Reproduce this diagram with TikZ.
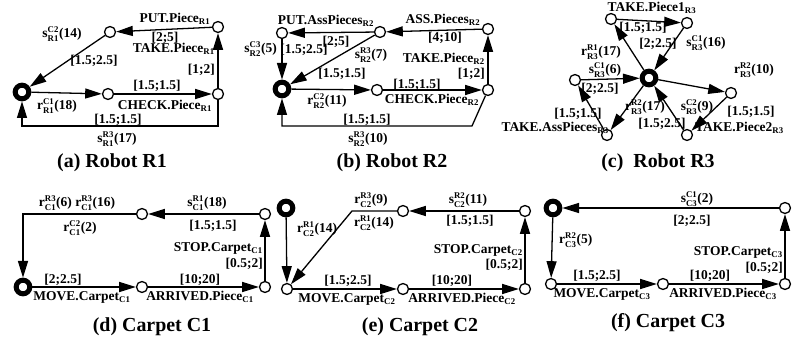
\documentclass[tikz,border=0pt]{standalone}
\usepackage{fontspec}
\setmainfont{Liberation Serif}
\usetikzlibrary{arrows.meta, positioning}
\DeclareMathSizes{11.5}{11.5}{7.5}{6}

\newcommand{\evt}[4]{$\mathbf{#1}^{\mathbf{#2}}_{\mathbf{#3}}$(#4)}
\newcommand{\act}[2]{#1$_{\mathbf{#2}}$}

\begin{document}
\begin{tikzpicture}[
    x=0.3mm, y=-0.3mm,
    state/.style={
        circle,
        draw,
        fill=white,
        line width=1.1pt,
        inner sep=0pt,
        minimum size=3.3mm
    },
    initstate/.style={
        circle,
        draw,
        fill=white,
        line width=1.5mm,
        inner sep=0pt,
        minimum size=4.1mm
    },
    arrow/.style={
        -{Triangle[length=5mm, width=3mm]},
        line width=1.1pt
    },
    lbl/.style={font=\fontsize{11.5}{12}\selectfont\bfseries, inner sep=0pt},
    caption/.style={font=\fontsize{17}{19}\selectfont\bfseries}
]
\useasboundingbox (0,0) rectangle (792,341);

% (a) Robot R1
\node[initstate] (a0) at (22,92) {};
\node[state] (a1) at (110,32) {};
\node[state] (a2) at (218,27) {};
\node[state] (a3) at (108,94) {};
\node[state] (a4) at (218,94) {};
\coordinate (a5) at (22,126);

\draw[arrow] (a2) -- (a1);
\draw[arrow] (a1) -- (a0);
\draw[arrow] (a0) -- (a3);
\draw[arrow] (a3) -- (a4);
\draw[arrow] (a4) -- (a2);
\draw[arrow] (a4) |- (a5) -- (a0);

\node[lbl] (aput) at (175,19) {\act{PUT.Piece}{R1}};
\node[lbl] (aputt) at (165,38) {[2;5]};
\node[lbl, anchor=east] (atake) at (215,49) {\act{TAKE.Piece}{R1}};
\node[lbl, anchor=east] (ataket) at (215,70) {[1;2]};
\node[lbl] (acheckt) at (157,86) {[1.5;1.5]};
\node[lbl] (acheck) at (165,106) {\act{CHECK.Piece}{R1}};
\node[lbl] (ar18) at (57,106) {\evt{r}{C1}{R1}{18}};
\node[lbl] (as17t) at (118,120) {[1.5;1.5]};
\node[lbl] (as17) at (117,139) {\evt{s}{R3}{R1}{17}};
\node[lbl] (as14) at (62,34) {\evt{s}{C2}{R1}{14}};
\node[lbl] (as14t) at (94,61) {[1.5;2.5]};
\node[caption] (capa) at (112,163) {(a) Robot R1};

% (b) Robot R2
\node[initstate] (b0) at (282,89) {};
\node[state] (b1) at (282,33) {};
\node[state] (b2) at (380,32) {};
\node[state] (b3) at (488,29) {};
\node[state] (b4) at (377,90) {};
\node[state] (b5) at (488,90) {};
\coordinate (b6) at (472,126);
\coordinate (b7) at (282,126);

\draw[arrow] (b3) -- (b2);
\draw[arrow] (b2) -- (b1);
\draw[arrow] (b1) -- (b0);
\draw[arrow] (b2) -- (b0);
\draw[arrow] (b0) -- (b4);
\draw[arrow] (b4) -- (b5);
\draw[arrow] (b5) -- (b3);
\draw[arrow] (b5) -- (b6) -- (b7) -- (b0);

\node[lbl] (bput) at (326,21) {\act{PUT.AssPieces}{R2}};
\node[lbl] (bputt) at (336,42) {[2;5]};
\node[lbl] (bass) at (443,20) {\act{ASS.Pieces}{R2}};
\node[lbl] (basst) at (445,38) {[4;10]};
\node[lbl, anchor=east] (bs5) at (277,49) {\evt{s}{C3}{R2}{5}};
\node[lbl] (bs5t) at (304,50) {[1.5;2.5]};
\node[lbl] (bs7) at (371,55) {\evt{s}{R3}{R2}{7}};
\node[lbl] (bs7t) at (342,74) {[1.5;1.5]};
\node[lbl, anchor=east] (btake) at (485,59) {\act{TAKE.Piece}{R2}};
\node[lbl, anchor=east] (btaket) at (485,74) {[1;2]};
\node[lbl] (bcheckt) at (417,85) {[1.5;1.5]};
\node[lbl] (bcheck) at (432,100) {\act{CHECK.Piece}{R2}};
\node[lbl] (br11) at (327,101) {\evt{r}{C2}{R2}{11}};
\node[lbl] (bs10t) at (367,120) {[1.5;1.5]};
\node[lbl] (bs10) at (368,139) {\evt{s}{R3}{R2}{10}};
\node[caption] (capb) at (392,163) {(b) Robot R2};

% (c) Robot R3
\node[initstate] (c0) at (649,78) {};
\node[state] (c1) at (611,19) {};
\node[state] (c2) at (687,23) {};
\node[state] (c3) at (575,80) {};
\node[state] (c4) at (607,135) {};
\node[state] (c5) at (687,135) {};
\node[state] (c6) at (731,93) {};

\draw[arrow] (c0) -- (c1);
\draw[arrow] (c1) -- (c2);
\draw[arrow] (c2) -- (c0);
\draw[arrow] (c3) -- (c0);
\draw[arrow] (c0) -- (c4);
\draw[arrow] (c4) -- (c3);
\draw[arrow] (c0) -- (c6);
\draw[arrow] (c6) -- (c5);
\draw[arrow] (c5) -- (c0);

\node[lbl] (ctake1) at (652,8) {\act{TAKE.Piece1}{R3}};
\node[lbl] (ctake1t) at (643,28) {[1.5;1.5]};
\node[lbl] (cs16t) at (658,44) {[2;2.5]};
\node[lbl] (cs16) at (706,43) {\evt{s}{C1}{R3}{16}};
\node[lbl] (cr17) at (601,52) {\evt{r}{R1}{R3}{17}};
\node[lbl] (cs6) at (605,70) {\evt{s}{C1}{R3}{6}};
\node[lbl] (cs6t) at (600,89) {[2;2.5]};
\node[lbl] (cr10) at (754,70) {\evt{r}{R2}{R3}{10}};
\node[lbl] (cassT) at (578,114) {[1.5;1.5]};
\node[lbl, anchor=east] (cass) at (609,128) {\act{TAKE.AssPieces}{R3}};
\node[lbl] (cr17b) at (645,107) {\evt{r}{R2}{R3}{17}};
\node[lbl] (cs9) at (697,107) {\evt{s}{C2}{R3}{9}};
\node[lbl] (cs9t) at (662,124) {[1.5;2.5]};
\node[lbl] (ctake2t) at (751,112) {[1.5;1.5]};
\node[lbl, anchor=west] (ctake2) at (695,128) {\act{TAKE.Piece2}{R3}};
\node[caption] (capc) at (658,163) {(c)\ \ Robot R3};

% (d) Carpet C1
\node[initstate] (d0) at (23,287) {};
\node[state] (d1) at (142,287) {};
\node[state] (d2) at (265,287) {};
\node[state] (d3) at (265,214) {};
\node[state] (d4) at (142,214) {};
\coordinate (d5) at (23,214);

\draw[arrow] (d0) -- (d1);
\draw[arrow] (d1) -- (d2);
\draw[arrow] (d2) -- (d3);
\draw[arrow] (d3) -- (d4);
\draw[arrow] (d4) -- (d5) -- (d0);

\node[lbl] (dmovet) at (63,280) {[2;2.5]};
\node[lbl] (dmove) at (82,297) {\act{MOVE.Carpet}{C1}};
\node[lbl] (darrt) at (200,280) {[10;20]};
\node[lbl] (darr) at (200,297) {\act{ARRIVED.Piece}{C1}};
\node[lbl, anchor=east] (dstop) at (263,248) {\act{STOP.Carpet}{C1}};
\node[lbl, anchor=east] (dstopt) at (263,264) {[0.5;2]};
\node[lbl] (ds18) at (207,203) {\evt{s}{R1}{C1}{18}};
\node[lbl] (ds18t) at (213,226) {[1.5;1.5]};
\node[lbl] (dr6) at (77,203) {\evt{r}{R3}{C1}{6} \evt{r}{R3}{C1}{16}};
\node[lbl] (dr2) at (80,228) {\evt{r}{C2}{C1}{2}};
\node[caption] (capd) at (152,327) {(d) Carpet C1};

% (e) Carpet C2
\node[initstate] (e0) at (286,208) {};
\node[state] (e1) at (287,289) {};
\node[state] (e2) at (403,289) {};
\node[state] (e3) at (525,289) {};
\node[state] (e4) at (525,211) {};
\node[state] (e5) at (403,211) {};
\coordinate (e6) at (352,211);

\draw[arrow] (e0) -- (e1);
\draw[arrow] (e1) -- (e2);
\draw[arrow] (e2) -- (e3);
\draw[arrow] (e3) -- (e4);
\draw[arrow] (e4) -- (e5);
\draw[arrow] (e5) -- (e6) -- (e1);

\node[lbl, anchor=west] (er14) at (297,229) {\evt{r}{R1}{C2}{14}};
\node[lbl] (er9) at (371,200) {\evt{r}{R3}{C2}{9}};
\node[lbl] (er14b) at (374,223) {\evt{r}{R1}{C2}{14}};
\node[lbl] (es11) at (468,200) {\evt{s}{R2}{C2}{11}};
\node[lbl] (es11t) at (470,221) {[1.5;1.5]};
\node[lbl, anchor=east] (estop) at (523,250) {\act{STOP.Carpet}{C2}};
\node[lbl, anchor=east] (estopt) at (523,265) {[0.5;2]};
\node[lbl] (emovet) at (348,281) {[1.5;2.5]};
\node[lbl] (emove) at (347,299) {\act{MOVE.Carpet}{C2}};
\node[lbl] (earrt) at (452,281) {[10;20]};
\node[lbl] (earr) at (462,299) {\act{ARRIVED.Piece}{C2}};
\node[caption] (cape) at (420,327) {(e) Carpet C2};

% (f) Carpet C3
\node[initstate] (f0) at (553,208) {};
\node[state] (f1) at (551,284) {};
\node[state] (f2) at (663,284) {};
\node[state] (f3) at (785,284) {};
\node[state] (f4) at (785,208) {};

\draw[arrow] (f4) -- (f0);
\draw[arrow] (f0) -- (f1);
\draw[arrow] (f1) -- (f2);
\draw[arrow] (f2) -- (f3);
\draw[arrow] (f3) -- (f4);

\node[lbl] (fs2) at (697,199) {\evt{s}{C1}{C3}{2}};
\node[lbl] (fs2t) at (692,221) {[2;2.5]};
\node[lbl, anchor=west] (fr5) at (559,240) {\evt{r}{R2}{C3}{5}};
\node[lbl, anchor=east] (fstop) at (783,252) {\act{STOP.Carpet}{C3}};
\node[lbl, anchor=east] (fstopt) at (783,268) {[0.5;2]};
\node[lbl] (fmovet) at (597,276) {[1.5;2.5]};
\node[lbl] (fmove) at (602,294) {\act{MOVE.Carpet}{C3}};
\node[lbl] (farrt) at (710,276) {[10;20]};
\node[lbl] (farr) at (723,294) {\act{ARRIVED.Piece}{C3}};
\node[caption] (capf) at (668,323) {(f) Carpet C3};

\end{tikzpicture}
\end{document}
